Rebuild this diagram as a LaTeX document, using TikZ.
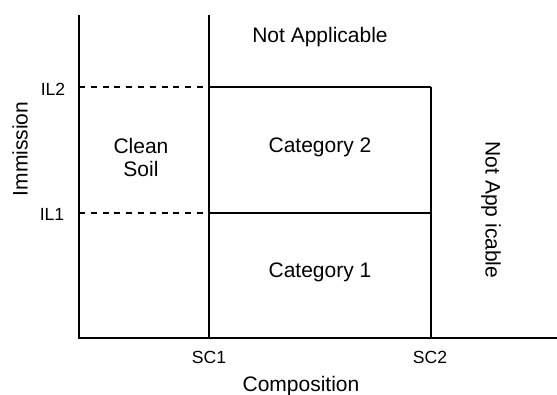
\documentclass[tikz,border=0pt]{standalone}
\usepackage{fontspec}
\setmainfont{Liberation Sans}
\usetikzlibrary{positioning}

\begin{document}
\begin{tikzpicture}[
    x=0.5pt, y=-0.5pt,
    boundary/.style={draw=black, line width=0.75pt},
    limitline/.style={draw=black, line width=0.75pt, dash pattern=on 3pt off 2.9pt},
    region/.style={font=\fontsize{10.5}{11.5}\selectfont, align=center, inner sep=0pt},
    ticklabel/.style={font=\fontsize{8.8}{10}\selectfont, inner sep=0pt},
    axislabel/.style={font=\fontsize{10.5}{12}\selectfont, inner sep=0pt}
  ]
  \useasboundingbox (0,0) rectangle (557,395);

  %% Axis and threshold points
  \coordinate (origin) at (79,338);
  \coordinate (ytop) at (79,15);
  \coordinate (xend) at (557,338);
  \coordinate (sc1) at (209,338);
  \coordinate (sc1top) at (209,15);
  \coordinate (sc2) at (431,338);
  \coordinate (il1) at (79,213);
  \coordinate (il2) at (79,87);
  \coordinate (il1mid) at (209,213);
  \coordinate (il2mid) at (209,87);
  \coordinate (il1end) at (431,213);
  \coordinate (il2end) at (431,87);

  %% Axes
  \draw[boundary] (ytop) -- (origin) -- (xend);

  %% Composition limits
  \draw[boundary] (sc1top) -- (sc1);
  \draw[boundary] (il2end) -- (sc2);

  %% Immission limits
  \draw[limitline] (il2) -- (il2mid);
  \draw[boundary] (il2mid) -- (il2end);
  \draw[limitline] (il1) -- (il1mid);
  \draw[boundary] (il1mid) -- (il1end);

  %% Tick labels
  \node[ticklabel] (il2lbl) at (53,89) {IL2};
  \node[ticklabel] (il1lbl) at (52,214) {IL1};
  \node[ticklabel] (sc1lbl) at (209,357) {SC1};
  \node[ticklabel] (sc2lbl) at (430,357) {SC2};

  %% Axis labels
  \node[axislabel, rotate=90] (ylbl) at (20,149) {Immission};
  \node[axislabel] (xlbl) at (301,386) {Composition};

  %% Region labels
  \node[region] (clean) at (141,157) {Clean\\Soil};
  \node[region] (cat2) at (320,147) {Category 2};
  \node[region] (cat1) at (320,272) {Category 1};
  \node[region] (natop) at (320,37) {Not Applicable};
  \node[region, rotate=-90] (naright) at (491,210) {Not App icable};

\end{tikzpicture}
\end{document}
